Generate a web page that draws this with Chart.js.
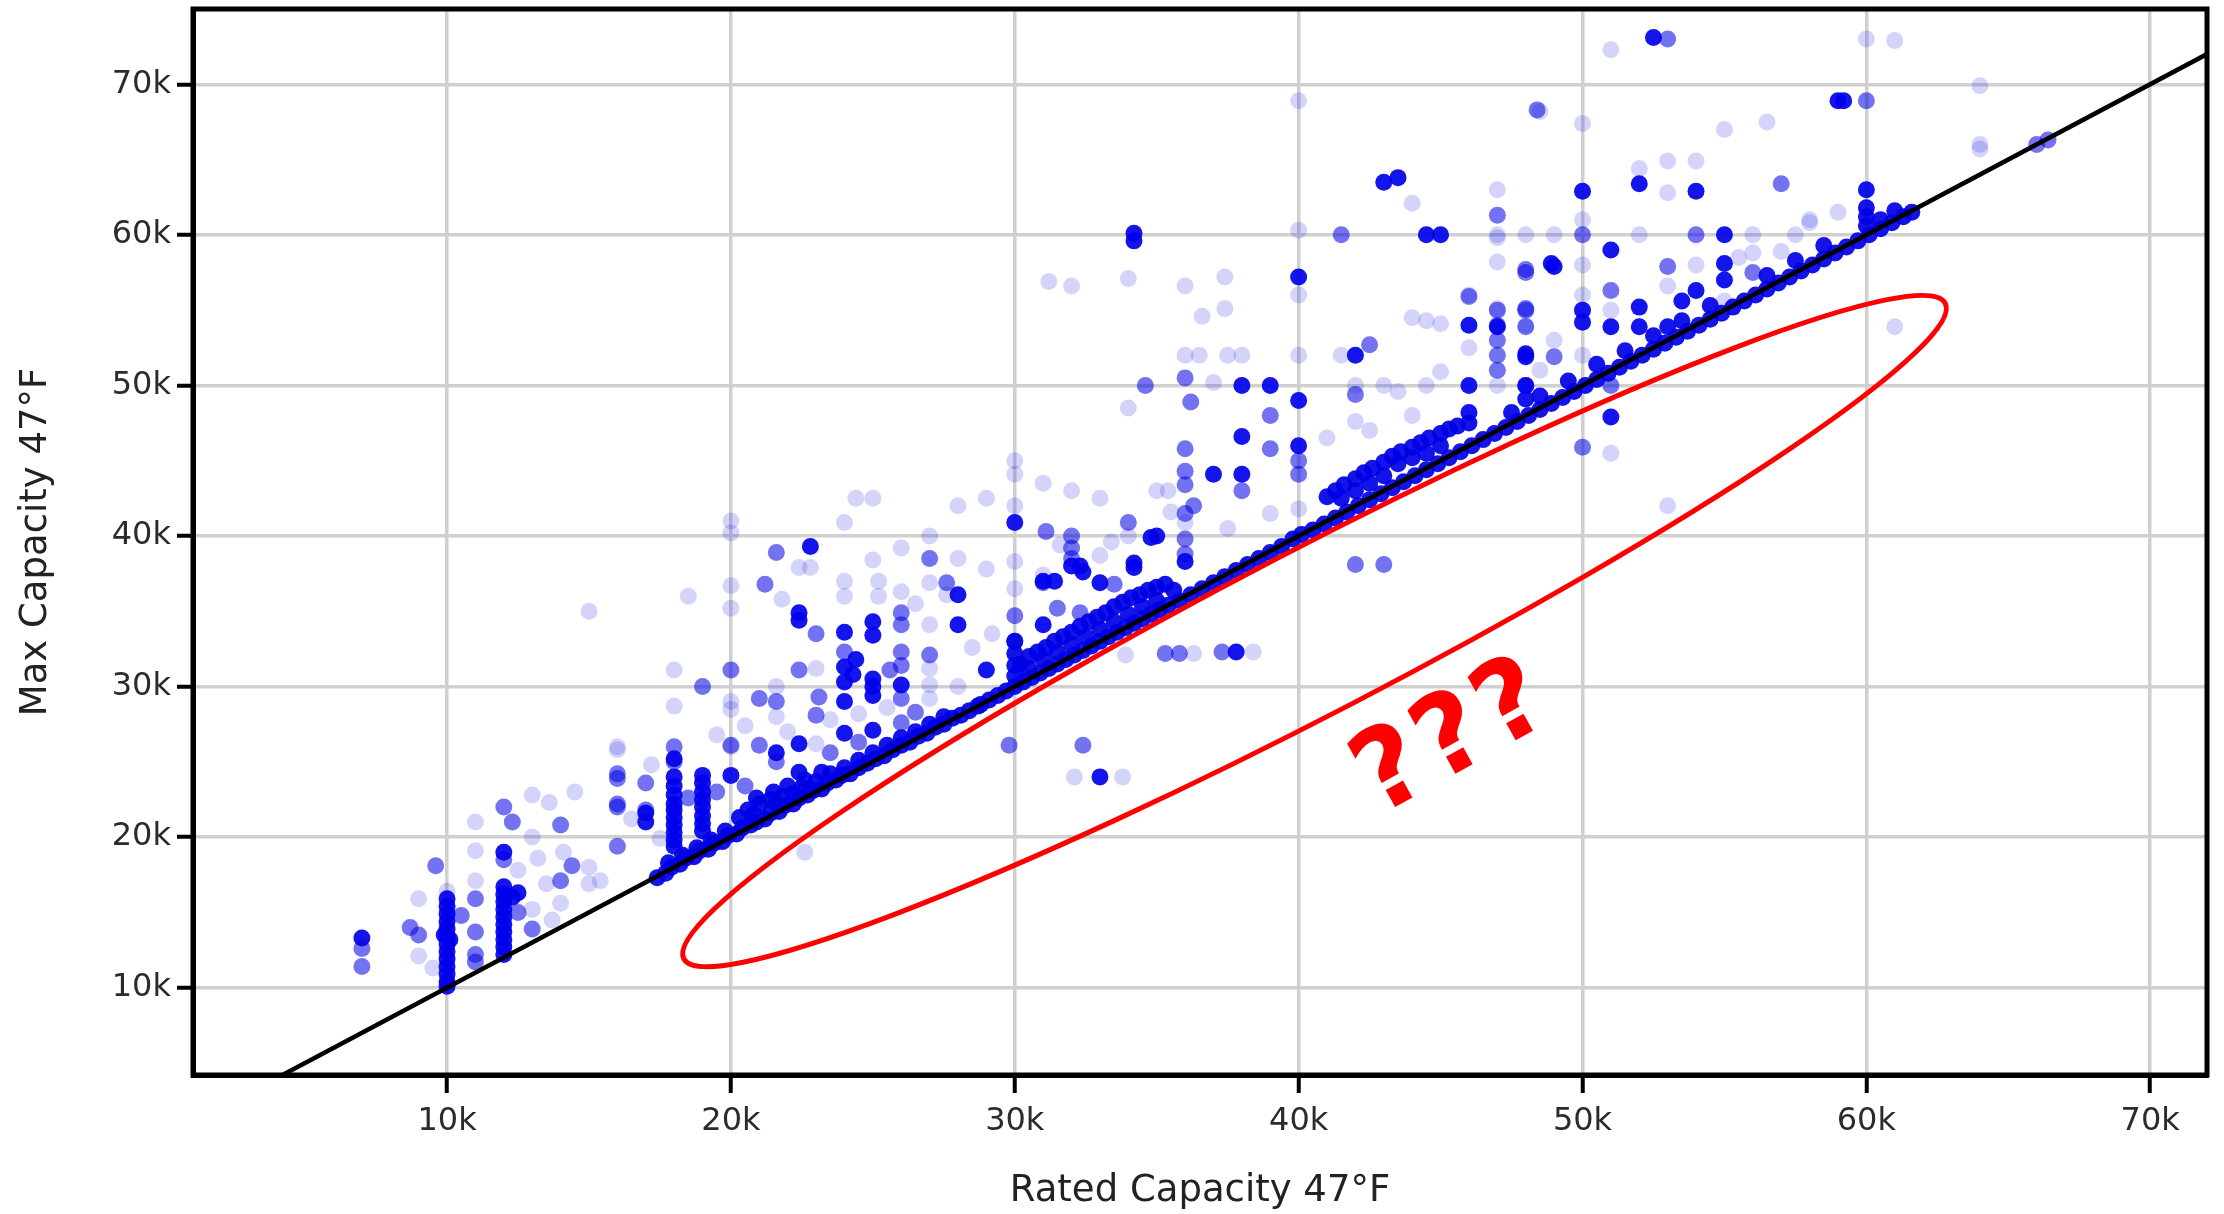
<!DOCTYPE html>
<html>
<head>
<meta charset="utf-8">
<title>Max vs Rated Capacity 47°F</title>
<script src="https://cdn.jsdelivr.net/npm/chart.js@4.4.1/dist/chart.umd.min.js"></script>
<style>
  html, body { margin: 0; padding: 0; background: #fff; }
  #wrap { width: 2224px; height: 1214px; }
</style>
</head>
<body>
<div id="wrap"><canvas id="chart" width="2224" height="1214"></canvas></div>
<script>
// Capacities are in thousands of BTU/h: [rated @47°F, max @47°F]

// Axis ticks
const xTickValues = [10, 20, 30, 40, 50, 60, 70];
const xTickLabels = ['10k', '20k', '30k', '40k', '50k', '60k', '70k'];
const yTickValues = [10, 20, 30, 40, 50, 60, 70];
const yTickLabels = ['10k', '20k', '30k', '40k', '50k', '60k', '70k'];

// Reference line: max capacity equal to rated capacity
const parityLine = [0, 80];

// Systems whose max equals (or sits just above) the rated capacity
const onParity = [
  [17.4,17.3],[17.7,17.6],[17.9,18.0],[18.2,18.2],[18.4,18.6],[18.7,18.7],[18.9,19.1],[19.2,19.2],
  [19.4,19.6],[19.7,19.7],[19.9,20.1],[20.2,20.2],[20.4,20.6],[20.7,20.8],[20.9,21.0],[21.2,21.2],
  [21.4,21.6],[21.7,21.7],[21.9,22.1],[22.2,22.2],[22.4,22.6],[22.7,22.8],[22.9,23.1],[23.2,23.2],
  [23.4,23.6],[23.7,23.8],[23.9,24.1],[24.2,24.2],[24.5,24.6],[24.8,24.9],[25.1,25.2],[25.4,25.4],
  [25.7,25.8],[26.0,26.1],[26.3,26.3],[26.6,26.7],[26.9,26.9],[27.2,27.3],[27.5,27.5],[27.8,27.9],
  [28.1,28.1],[28.4,28.4],[28.8,28.8],[29.1,29.1],[29.4,29.4],[29.7,29.7],[30.0,30.0],[30.3,30.3],
  [30.6,30.6],[30.9,30.9],[31.2,31.2],[31.5,31.5],[31.8,31.8],[32.1,32.1],[32.4,32.4],[32.7,32.7],
  [33.0,33.0],[33.3,33.3],[33.6,33.6],[33.9,33.9],[34.2,34.2],[34.5,34.5],[34.8,34.8],[35.1,35.1],
  [35.4,35.4],[35.8,35.7],[36.2,36.1],[36.6,36.5],[37.0,36.9],[37.4,37.3],[37.8,37.7],[38.2,38.1],
  [38.6,38.5],[39.0,38.9],[39.4,39.3],[39.8,39.8],[40.1,40.1],[40.5,40.4],[40.9,40.8],[41.3,41.2],
  [41.7,41.6],[42.1,42.0],[42.5,42.4],[42.9,42.8],[43.3,43.2],[43.7,43.6],[44.1,44.0],[44.5,44.4],
  [44.9,44.8],[45.3,45.2],[45.7,45.6],[46.1,46.0],[46.5,46.4],[46.9,46.8],[47.3,47.2],[47.7,47.6],
  [48.1,48.0],[48.5,48.4],[48.9,48.8],[49.3,49.2],[49.7,49.6],[50.1,50.0],[50.5,50.4],[50.9,50.8],
  [51.3,51.2],[51.7,51.6],[52.1,52.0],[52.5,52.4],[52.9,52.8],[53.3,53.2],[53.7,53.6],[54.1,54.0],
  [54.5,54.4],[54.9,54.8],[55.3,55.2],[55.7,55.6],[56.1,56.0],[56.5,56.4],[56.9,56.8],[57.3,57.2],
  [57.7,57.6],[58.1,58.0],[58.5,58.4],[58.9,58.8],[59.3,59.2],[59.7,59.6],[60.1,60.0],[60.5,60.4],
  [60.9,60.8],[61.3,61.2],[61.6,61.5],
  // just above parity
  [17.8,18.3],[18.3,18.8],[18.8,19.3],[19.3,19.8],[19.8,20.4],
  [20.3,21.3],[20.6,21.8],[21.0,22.2],[21.4,22.5],[21.8,22.7],[22.2,22.9],[20.8,21.5],[21.6,22.2],
  [22.5,23.3],[23.0,23.7],[23.5,24.2],[24.0,24.6],[24.5,25.1],[25.0,25.6],[25.5,26.1],[26.0,26.6],
  [26.5,27.0],[27.0,27.5],[27.5,28.0],[20.9,22.6],[21.5,23.0],[22.0,23.4],[22.6,23.8],[23.2,24.3],
  [30.2,31.5],[30.5,32.0],[30.8,32.3],[31.1,32.6],[31.4,33.0],[31.7,33.3],[32.0,33.6],[32.3,34.0],
  [32.6,34.3],[32.9,34.6],[33.2,34.9],[33.5,35.3],[33.8,35.6],[34.1,35.9],[34.4,36.1],[34.7,36.4],
  [35.0,36.6],[35.3,36.8],[30.5,31.2],[31.0,31.8],[31.5,32.3],[32.0,32.8],[32.5,33.3],[33.0,33.8],
  [33.5,34.3],[34.0,34.8],[34.5,35.3],[35.0,35.7],[30.0,32.2],[30.0,33.0],[35.6,36.4],
  [41.0,42.6],[41.3,43.0],[41.6,43.4],[42.0,43.8],[42.3,44.2],[42.6,44.5],[43.0,44.9],[43.3,45.3],
  [43.6,45.6],[44.0,45.9],[44.3,46.2],[44.6,46.5],[45.0,46.8],[45.3,47.1],[42.0,43.0],[43.0,44.0],
  [44.0,45.2],[45.0,46.0],[41.5,42.5],[42.5,43.5],[43.5,44.8],[44.5,45.5],[46.0,47.5],[45.6,47.3],
  [47.5,48.2],[48.5,49.3],[49.5,50.3],[50.5,51.4],[51.5,52.3],[52.5,53.3],[53.5,54.3],[54.5,55.3],
  [56.5,57.3],[57.5,58.3],[58.5,59.3],[60.0,60.6],[60.0,61.2],[60.0,61.8],[60.5,61.0],[61.0,61.6]
];

// Frequently repeated ratings (dense markers)
const frequent = [
  [7,13.3],
  [10,15.9],[10,15.4],[10,14.9],[10,14.4],[10,13.9],[10,13.4],[10,12.9],[10,12.4],[10,11.9],
  [10,11.4],[10,10.9],[10,10.4],[10,10.1],[9.9,13.5],[10.1,13.2],
  [12,19.0],[12,16.7],[12,16.2],[12,15.7],[12,15.2],[12,14.7],[12,14.2],[12,13.7],[12,13.2],
  [12,12.7],[12,12.2],[12.5,16.3],[12.3,16.0],
  [17,21.0],[17,21.6],
  [18,25.2],[18,24.0],[18,23.4],[18,22.8],[18,22.2],[18,21.8],[18,21.3],[18,20.8],[18,20.3],[18,19.8],[18,19.4],
  [19,24.1],[19,23.6],[19,23.0],[19,22.5],[19,22.0],[19,21.4],[19,20.9],[19,20.4],
  [20,24.1],
  [22.8,39.3],[22.4,34.9],[22.4,34.4],[22.4,24.3],[21.6,25.6],[22.4,26.2],
  [24,33.6],[24,31.3],[24,30.3],[24,29.0],[24,26.9],[24.4,31.8],[24.3,30.8],
  [25,34.3],[25,33.4],[25,30.5],[25,29.4],[25,27.1],[25,30.0],
  [26,30.1],[28,36.1],[28,34.1],[29,31.1],[28.7,28.7],
  [30,40.9],[30,31.4],[30,30.7],[31,37.0],[31.4,37.0],[31,34.1],[32,38.0],[32.3,38.0],[33,36.9],
  [34.2,38.2],[34.8,39.9],[33,24.0],[34.2,37.9],[35,40.0],[32.4,37.6],
  [34.2,59.6],[34.2,60.1],
  [40,57.2],[40,49.0],[40,46.0],[42,52.0],[38,50.0],[39,50.0],[38,46.6],[37,44.1],[38,44.1],
  [37.8,32.3],[36,38.3],
  [43,63.5],[43.5,63.8],[44.5,60.0],[45,60.0],
  [46,54.0],[46,50.0],[46,48.2],[48,52.1],[48,49.1],[48.9,58.1],
  [50,62.9],[50,55.0],[50,54.2],[52,63.4],[54,62.9],
  [60,63.0],[59,68.9],[59.2,68.9],
  [51,59.0],[51,53.9],[51,47.9],[52,55.2],[52,53.9],[53,53.9],[54,56.3],[53.5,55.6],
  [55,60.0],[55,58.1],[55,57.0],[47,53.9],[48,51.9],[48,50.0],[49,57.9],[52.5,73.1]
];

// Less common ratings (medium markers)
const occasional = [
  [7,12.6],[7,11.4],[8.7,14.0],[9,13.5],[9.6,18.1],[11,15.9],[11,13.7],[11,12.2],[11,11.7],
  [10.5,14.8],[12,22.0],[12.3,21.0],[12,18.5],[12.5,15.0],[14,20.8],[14.4,18.1],[14,17.1],
  [13,13.9],[16,23.9],[16,22.0],[16,19.4],[17,23.6],[17,21.8],[18,26.0],[16,24.2],[16,22.2],
  [20,31.1],[20,26.1],[18,25.0],[19,30.0],[21.2,36.8],[21.6,38.9],[23,33.5],[22.4,31.1],
  [21,29.2],[21.6,29.0],[21,26.1],[21.6,25.0],[23,28.1],[23.1,29.3],[24,32.3],
  [26,34.9],[26,34.1],[26,32.3],[26,31.4],[26,29.2],[26,27.6],[25.6,31.1],[27,32.1],
  [27.6,36.9],[27,38.5],[30,34.7],[30,33.0],[31.1,40.3],[32,39.2],[32.3,34.9],[32.4,26.1],[29.8,26.1],
  [32,40.0],[32,38.5],[31,36.9],[34,40.9],[34.6,50.0],[36,50.5],[36.2,48.9],[39,48.0],[39,45.8],
  [38,43.0],[36.3,42.0],[36,45.8],[36,44.3],[36,43.4],[36,41.5],[36,39.8],[36,38.8],[40,45.0],[40,44.1],
  [41.5,60.0],[42.5,52.7],[42,49.4],[47,54.0],[47,53.0],[47,52.0],[47,51.0],[48,57.7],[48,55.1],
  [48,50.0],[42,38.1],[43,38.1],[35.3,32.2],[35.8,32.2],[37.3,32.3],
  [47,61.3],[47,55.0],[48,55.0],[48,53.9],[49,51.9],[50,60.0],[51,56.3],[51,50.0],[53,57.9],
  [54,60.0],[56,57.5],[57,63.4],[60,68.9],[50,45.9],[48,57.5],[66,66.0],[66.4,66.3],[53,73.0],
  [48.4,68.3],[46,55.9],
  [18.5,22.6],[19.5,23.0],[20.5,23.4],[23.5,25.6],[24.5,26.3],[26.5,28.3],[31.5,35.2],[33.5,36.8]
];

// Single listings (faint markers)
const rare = [
  [9,15.9],[11,21.0],[11,19.1],[11,17.1],[13,22.8],[13.6,22.3],[14.5,23.0],[13,20.0],[14.1,19.0],
  [15,18.0],[15.4,17.1],[15,16.9],[13.5,16.9],[13,15.2],[14,15.6],[13.7,14.5],[16,25.8],[17.5,19.9],
  [18,28.7],[20,28.5],[20,26.0],[10,16.4],[9.5,11.3],[9,12.1],
  [20,41.0],[20,40.2],[20,36.7],[20,35.2],[20,29.0],[18.5,36.0],[18,31.1],[16,26.0],
  [22.4,37.9],[22.8,37.9],[21.6,28.0],[21.6,30.0],[21.8,35.8],[23,31.2],[23,26.2],[24,40.9],
  [24.4,42.5],[25,42.5],[24,36.0],[24,37.0],[25.2,37.0],[25.2,36.0],[26,39.2],[26,36.3],[27,40.0],
  [27,36.9],[27,34.1],[27,30.1],[27,29.2],[27.6,36.1],[28,38.5],[28,30.0],[30,44.1],[30,38.3],
  [30,36.5],[32,43.0],[33,38.7],[34,40.0],[33.9,32.1],[32.1,24.0],[33.8,24.0],[22.6,19.0],[15,35.0],
  [31.2,56.9],[32,56.6],[34,57.1],[36,56.6],[37.4,57.2],[37.4,55.1],[36.6,54.6],[40,60.3],[40,56.0],
  [36,52.0],[36.5,52.0],[37.5,52.0],[38,52.0],[40,52.0],[41.5,52.0],[44,62.1],[47,63.0],[47,59.8],
  [37,50.2],[34,48.5],[35,43.0],[35.4,43.0],[31,37.4],[33,42.5],[42,50.0],[42,47.6],[43,50.0],
  [43.5,49.6],[44,48.0],[44,54.5],[44.5,54.3],[45,54.1],[45,50.9],[46,56.0],[46,52.5],[47,58.2],
  [47,55.1],[47,50.0],[48,54.0],[48.5,51.0],[38.4,32.3],[36.3,32.2],[30,45.0],[30,42.0],[31,43.5],
  [28,42.0],[29,42.5],[40,41.8],[36,40.9],
  [48.5,68.2],[50,67.4],[55,67.0],[56.5,67.5],[54,64.9],[53,64.9],[52,64.4],[53,62.8],[58,60.8],
  [47,60.0],[48,60.0],[49,60.0],[50,61.0],[50,58.0],[50,56.0],[50,52.0],[51,45.5],[53,42.0],
  [61,53.9],[52,60.0],[54,58.0],[56,60.0],[56,58.8],[57,58.9],[55,55.6],
  [60,73.0],[61,72.9],[64,69.9],[64,65.7],[58,61.0],[51,72.3],[40,68.9],[64,66.0],
  [12.5,17.8],[13.2,18.6],[16.5,21.2],[17.2,24.8],[19.5,26.8],[20.5,27.4],[22,27.0],[23.5,27.8],
  [24.5,28.2],[25.5,28.6],[27,31.2],[28.5,32.6],[29.2,33.5],[29,37.8],[26.5,35.5],[25,38.4],
  [31.6,39.4],[33.4,39.6],[35.5,41.6],[37.5,40.5],[39,41.5],[41,46.5],[42.5,47.0],[44.5,50.0],
  [49,53.0],[51,55.0],[53,56.6],[55.5,58.5],[57.5,60.0],[59,61.5]
];

// Annotation drawn over the chart, in axis units
const outlineTips = [[18.34, 11.92], [62.78, 55.45]];
const outlineSlimness = 0.115;
const noteText = '???';
const notePos = [45.5, 26.4];

const toXY = pts => pts.map(p => ({ x: p[0], y: p[1] }));

const annotationPlugin = {
  id: 'frameAndNote',
  afterDatasetsDraw(chart) {
    const { ctx, chartArea: a, scales: { x, y } } = chart;
    ctx.save();
    // plot frame
    ctx.strokeStyle = '#000';
    ctx.lineWidth = 5;
    ctx.strokeRect(a.left, a.top, a.right - a.left, a.bottom - a.top);

    // red outline around the empty region below parity
    const x1 = x.getPixelForValue(outlineTips[0][0]);
    const y1 = y.getPixelForValue(outlineTips[0][1]);
    const x2 = x.getPixelForValue(outlineTips[1][0]);
    const y2 = y.getPixelForValue(outlineTips[1][1]);
    const cx = (x1 + x2) / 2, cy = (y1 + y2) / 2;
    const rx = Math.hypot(x2 - x1, y2 - y1) / 2;
    const ang = Math.atan2(y2 - y1, x2 - x1);
    ctx.beginPath();
    ctx.ellipse(cx, cy, rx, rx * outlineSlimness, ang, 0, Math.PI * 2);
    ctx.strokeStyle = '#ff0000';
    ctx.lineWidth = 5;
    ctx.stroke();

    // question marks
    ctx.translate(x.getPixelForValue(notePos[0]), y.getPixelForValue(notePos[1]));
    ctx.rotate(-29 * Math.PI / 180);
    ctx.font = 'bold 112px "DejaVu Sans"';
    ctx.fillStyle = '#ff0000';
    ctx.textAlign = 'center';
    ctx.textBaseline = 'middle';
    ctx.letterSpacing = '4px';
    ctx.fillText(noteText, 0, 0);
    ctx.restore();
  }
};

const tickFont = { family: '"DejaVu Sans"', size: 32 };
const titleFont = { family: '"DejaVu Sans"', size: 37 };
const markerRadius = 8.5;

new Chart(document.getElementById('chart'), {
  type: 'scatter',
  data: {
    datasets: [
      {
        type: 'line',
        data: toXY([[parityLine[0], parityLine[0]], [parityLine[1], parityLine[1]]]),
        borderColor: '#000',
        borderWidth: 4.5,
        pointRadius: 0,
        fill: false
      },
      { data: toXY(onParity), backgroundColor: 'rgba(0,0,230,0.92)', pointRadius: markerRadius, borderWidth: 0 },
      { data: toXY(frequent), backgroundColor: 'rgba(0,0,235,0.92)', pointRadius: markerRadius, borderWidth: 0 },
      { data: toXY(occasional), backgroundColor: 'rgba(0,0,230,0.55)', pointRadius: markerRadius, borderWidth: 0 },
      { data: toXY(rare), backgroundColor: 'rgba(0,0,230,0.17)', pointRadius: markerRadius, borderWidth: 0 }
    ]
  },
  options: {
    responsive: false,
    animation: false,
    devicePixelRatio: 1,
    layout: { padding: { top: 9, right: 17, left: 0, bottom: 0 } },
    plugins: { legend: { display: false }, tooltip: { enabled: false } },
    scales: {
      x: {
        type: 'linear',
        min: 1.05,
        max: 72,
        afterBuildTicks: s => { s.ticks = xTickValues.map(v => ({ value: v })); },
        afterFit: s => { s.height = 139; s.paddingLeft = 0; s.paddingRight = 0; },
        ticks: {
          callback: (v, i) => xTickLabels[i],
          font: tickFont,
          color: '#2b2b2b',
          padding: 9,
          maxRotation: 0
        },
        grid: { color: '#d0d0d0', lineWidth: 3.5, tickColor: '#000', tickLength: 18, tickWidth: 4 },
        border: { color: '#000', width: 5 },
        title: {
          display: true,
          text: 'Rated Capacity 47°F',
          font: titleFont,
          color: '#222',
          padding: { top: 0, bottom: 0 }
        }
      },
      y: {
        type: 'linear',
        min: 4.2,
        max: 75,
        afterBuildTicks: s => { s.ticks = yTickValues.map(v => ({ value: v })); },
        afterFit: s => { s.width = 193; s.paddingTop = 0; s.paddingBottom = 0; },
        ticks: {
          callback: (v, i) => yTickLabels[i],
          font: tickFont,
          color: '#2b2b2b',
          padding: 6
        },
        grid: { color: '#d0d0d0', lineWidth: 3.5, tickColor: '#000', tickLength: 16, tickWidth: 4 },
        border: { color: '#000', width: 5 },
        title: {
          display: true,
          text: 'Max Capacity 47°F',
          font: titleFont,
          color: '#222',
          padding: { top: 14, bottom: 0 }
        }
      }
    }
  },
  plugins: [annotationPlugin]
});
</script>
</body>
</html>
